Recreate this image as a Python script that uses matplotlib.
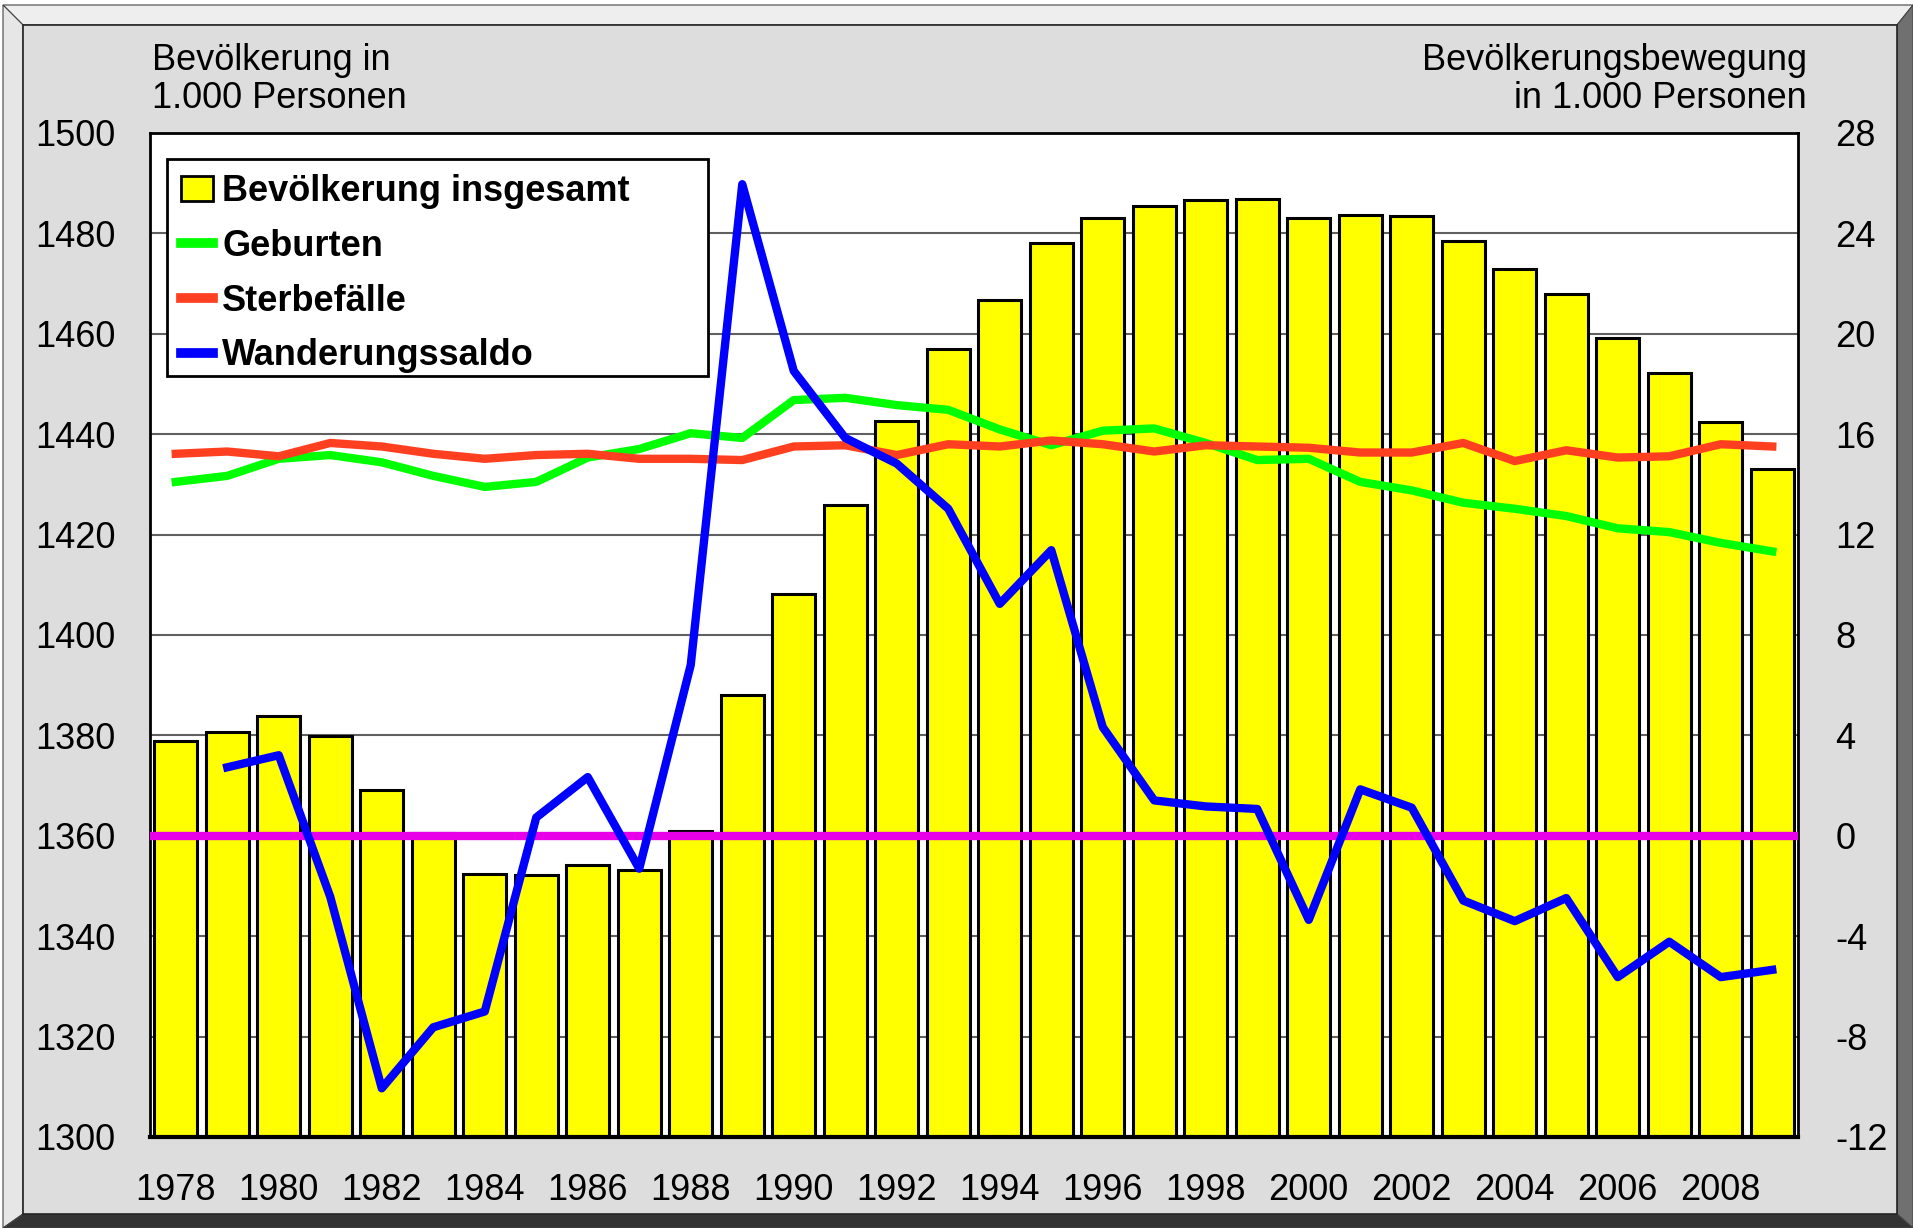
import matplotlib
matplotlib.use("Agg")
import matplotlib.pyplot as plt
from matplotlib.patches import Polygon, Rectangle
from matplotlib.lines import Line2D
import numpy as np

plt.rcParams['font.family'] = ['Liberation Sans', 'DejaVu Sans']
plt.rcParams['axes.unicode_minus'] = False

# data (1000 persons)
years = list(range(1978, 2010))
bevoelkerung = [1378.8, 1380.6, 1383.8, 1379.8, 1369.2, 1360.6, 1352.4, 1352.1, 1354.2, 1353.1,
                1361.0, 1388.0, 1408.2, 1425.9, 1442.6, 1456.9, 1466.8, 1478.0, 1483.0, 1485.4,
                1486.6, 1486.9, 1483.0, 1483.7, 1483.4, 1478.4, 1473.0, 1467.9, 1459.2, 1452.1,
                1442.5, 1433.1]
geburten = [14.1, 14.34, 15.02, 15.17, 14.88, 14.34, 13.9, 14.1, 15.07, 15.41,
            16.04, 15.85, 17.36, 17.45, 17.16, 16.97, 16.19, 15.56, 16.14, 16.23,
            15.65, 14.97, 15.02, 14.1, 13.76, 13.27, 13.03, 12.74, 12.25, 12.1,
            11.67, 11.33]
sterbefaelle = [15.22, 15.31, 15.12, 15.65, 15.51, 15.22, 15.02, 15.17, 15.22, 15.02,
                15.02, 14.97, 15.51, 15.56, 15.17, 15.6, 15.51, 15.75, 15.6, 15.31,
                15.56, 15.51, 15.46, 15.27, 15.27, 15.65, 14.93, 15.36, 15.07, 15.12,
                15.6, 15.51]
# Wanderungssaldo starts 1979
wanderung_years = list(range(1979, 2010))
wanderung = [2.73, 3.21, -2.43, -10.06, -7.63, -7.0, 0.73, 2.34, -1.31, 6.81,
             25.96, 18.52, 15.85, 14.83, 13.03, 9.24, 11.38, 4.33, 1.41, 1.17,
             1.07, -3.35, 1.85, 1.12, -2.58, -3.40, -2.48, -5.63, -4.22, -5.63,
             -5.34]

W, H = 1913, 1228
fig = plt.figure(figsize=(W / 100, H / 100), dpi=100)
fig.patch.set_facecolor('white')

def fp(x, y):
    return (x / W, 1 - y / H)

# bevelled frame, kept behind the axes
frame = [
    ([(3, 5), (1913, 5), (1897, 25), (23, 25)], '#eeeeee'),
    ([(3, 5), (23, 25), (23, 1214), (3, 1228)], '#e6e6e6'),
    ([(1913, 5), (1913, 1228), (1897, 1214), (1897, 25)], '#707070'),
    ([(3, 1228), (23, 1214), (1897, 1214), (1913, 1228)], '#333333'),
]
for pts, col in frame:
    fig.add_artist(Polygon([fp(*p) for p in pts], closed=True, facecolor=col,
                           edgecolor='#444444', linewidth=0.8, transform=fig.transFigure,
                           zorder=-10))
fig.add_artist(Polygon([fp(23, 25), fp(1897, 25), fp(1897, 1214), fp(23, 1214)], closed=True,
                       facecolor='#dddddd', edgecolor='#222222', linewidth=1.2,
                       transform=fig.transFigure, zorder=-9))

ax = fig.add_axes([150 / W, 1 - 1137 / H, 1648 / W, 1004 / H])
ax.set_facecolor('white')
x = np.arange(len(years))
ax.bar(x, np.array(bevoelkerung) - 1300, bottom=1300, width=0.83, color='#ffff00',
       edgecolor='black', linewidth=2.2, zorder=2)
ax.set_xlim(-0.5, len(years) - 0.5)
ax.set_ylim(1300, 1500)
ax.set_yticks(range(1300, 1501, 20))
ax.set_xticks(x[::2])
ax.set_xticklabels([str(y) for y in years[::2]])
ax.yaxis.grid(True, color='#606060', linewidth=1.5)
ax.set_axisbelow(True)
ax.tick_params(axis='both', length=0, labelsize=26)
ax.tick_params(axis='y', pad=25)
ax.tick_params(axis='x', pad=26)
for s in ax.spines.values():
    s.set_linewidth(2)
ax.spines['bottom'].set_linewidth(3)

ax2 = ax.twinx()
ax2.set_ylim(-12, 28)
ax2.set_yticks(range(-12, 29, 4))
ax2.tick_params(axis='y', length=0, labelsize=26, pad=27)
for s in ax2.spines.values():
    s.set_visible(False)
xw = [years.index(y) for y in wanderung_years]
lw = 6
ax2.axhline(0, color='#e800e8', linewidth=lw, zorder=3)
ax2.plot(x, geburten, color='#00ff00', linewidth=lw, solid_joinstyle='round', zorder=4)
ax2.plot(x, sterbefaelle, color='#ff4020', linewidth=lw, solid_joinstyle='round', zorder=4)
ax2.plot(xw, wanderung, color='#0000ff', linewidth=lw, solid_joinstyle='round', zorder=5)

# legend box drawn by hand (wider than the text, like the original)
to_ax = lambda px, py: ((px - 150) / 1648, (1137 - py) / 1004)
bx0, by0 = to_ax(167, 376)
bx1, by1 = to_ax(708, 159)
ax2.add_patch(Rectangle((bx0, by0), bx1 - bx0, by1 - by0, transform=ax2.transAxes,
                        facecolor='white', edgecolor='black', linewidth=2, zorder=8))

handles = [
    Rectangle((0, 0), 1, 1, facecolor='#ffff00', edgecolor='black', linewidth=2),
    Line2D([], [], color='#00ff00', linewidth=7),
    Line2D([], [], color='#ff4020', linewidth=7),
    Line2D([], [], color='#0000ff', linewidth=7),
]
labels = ['Bevölkerung insgesamt', 'Geburten', 'Sterbefälle', 'Wanderungssaldo']
leg = ax2.legend(handles, labels, loc='upper left', bbox_to_anchor=to_ax(170, 163),
                 borderaxespad=0, prop={'weight': 'bold', 'size': 26}, frameon=False,
                 handlelength=0.9, handleheight=0.7,
                 handletextpad=0.25, labelspacing=0.55, borderpad=0.3)
leg.set_zorder(9)

fig.text(152 / W, 1 - 43 / H, 'Bevölkerung in\n1.000 Personen', ha='left', va='top',
         fontsize=26, linespacing=1.1)
fig.text(1807 / W, 1 - 43 / H, 'Bevölkerungsbewegung\nin 1.000 Personen', ha='right',
         va='top', fontsize=26, linespacing=1.1, multialignment='right')

fig.savefig('out.png', dpi=100, facecolor=fig.get_facecolor())
